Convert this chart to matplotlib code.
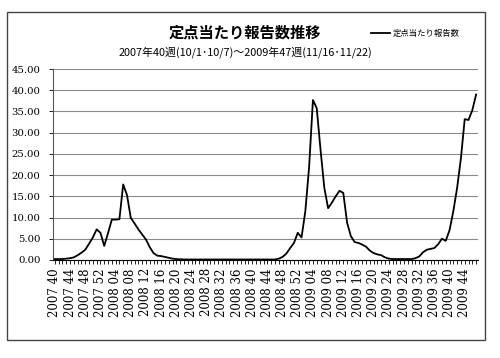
import matplotlib
matplotlib.use("Agg")
from matplotlib import pyplot as plt
from matplotlib.patches import Rectangle

# weeks: 2007 wk40 .. 2009 wk47
years = [2007] * 13 + [2008] * 52 + [2009] * 47
weeks = list(range(40, 53)) + list(range(1, 53)) + list(range(1, 48))

# 2007 wk40-52 (13)
r2007 = [0.2, 0.2, 0.2, 0.3, 0.4, 0.6, 1.1, 1.7, 2.4, 3.8, 5.3, 7.2, 6.4]
# 2008 wk1-52
r2008 = [3.3, 6.3, 9.5, 9.5, 9.6, 17.8, 15.3, 9.9, 8.6, 7.2, 6.0, 4.8, 3.0,
         1.6, 1.0, 0.9, 0.7, 0.5, 0.3, 0.2, 0.15, 0.1, 0.1, 0.1, 0.1, 0.1,
         0.1, 0.1, 0.1, 0.1, 0.1, 0.1, 0.1, 0.1, 0.1, 0.1, 0.1, 0.1, 0.1,
         0.1, 0.1, 0.1, 0.1, 0.1, 0.1, 0.1, 0.3, 0.7, 1.5, 2.8, 4.0, 6.4]
# 2009 wk1-47
r2009 = [5.3, 11.5, 22.0, 37.7, 35.8, 26.0, 17.0, 12.2, 13.5, 15.0, 16.3, 15.8,
         8.8, 5.6, 4.2, 4.0, 3.6, 3.1, 2.2, 1.6, 1.3, 1.1, 0.6, 0.3,
         0.2, 0.2, 0.2, 0.2, 0.2, 0.2, 0.4, 0.8, 1.8, 2.4, 2.6, 2.8,
         3.7, 5.0, 4.5, 7.0, 11.5, 17.0, 24.0, 33.2, 33.0, 35.3, 39.0]
reports = r2007 + r2008 + r2009

labels = ["{} {:02d}".format(y, w) if i % 4 == 0 else ""
          for i, (y, w) in enumerate(zip(years, weeks))]

title = "定点当たり報告数推移"
subtitle = "2007年40週(10/1･10/7)～2009年47週(11/16･11/22)"
series_name = "定点当たり報告数"

cjk = ["Noto Sans CJK JP", "DejaVu Sans"]
serif = ["DejaVu Serif"]

fig = plt.figure(figsize=(5.0, 3.58), dpi=100)
ax = fig.add_axes([0.106, 0.274, 0.850, 0.533])

x = list(range(len(reports)))
ax.plot(x, reports, color="black", lw=1.3, label=series_name)

ax.set_ylim(0, 45)
ax.set_xlim(-0.5, len(weeks) - 0.5)
ax.set_yticks(range(0, 46, 5))
ax.set_yticklabels(["{:.2f}".format(v) for v in range(0, 46, 5)],
                   family=serif, fontsize=7.3)
ax.set_xticks(range(len(weeks)))
ax.set_xticklabels(labels, rotation=90, family=serif, fontsize=8.5)
ax.tick_params(axis="x", length=3, width=0.6, pad=3)
ax.tick_params(axis="y", length=3, width=0.6, pad=6)
ax.yaxis.grid(True, color="#8a8a8a", lw=0.8)
ax.set_axisbelow(True)
for s in ("top", "right"):
    ax.spines[s].set_visible(False)
ax.spines["left"].set_color("#555555")
ax.spines["bottom"].set_color("black")

fig.text(0.49, 0.908, title, family=cjk, fontsize=11, fontweight="bold",
         ha="center", va="center")
fig.text(0.49, 0.855, subtitle, family=cjk, fontsize=7.8,
         ha="center", va="center")

fig.legend(loc="center left", bbox_to_anchor=(0.742, 0.908), frameon=False,
           handlelength=2.3, handletextpad=0.3, borderpad=0, borderaxespad=0,
           prop={"family": cjk, "size": 6})

fig.patches.append(Rectangle((0.014, 0.05), 0.956, 0.916, transform=fig.transFigure,
                             fill=False, lw=1.0, ec="#444444"))

fig.savefig("out.png", dpi=100)
